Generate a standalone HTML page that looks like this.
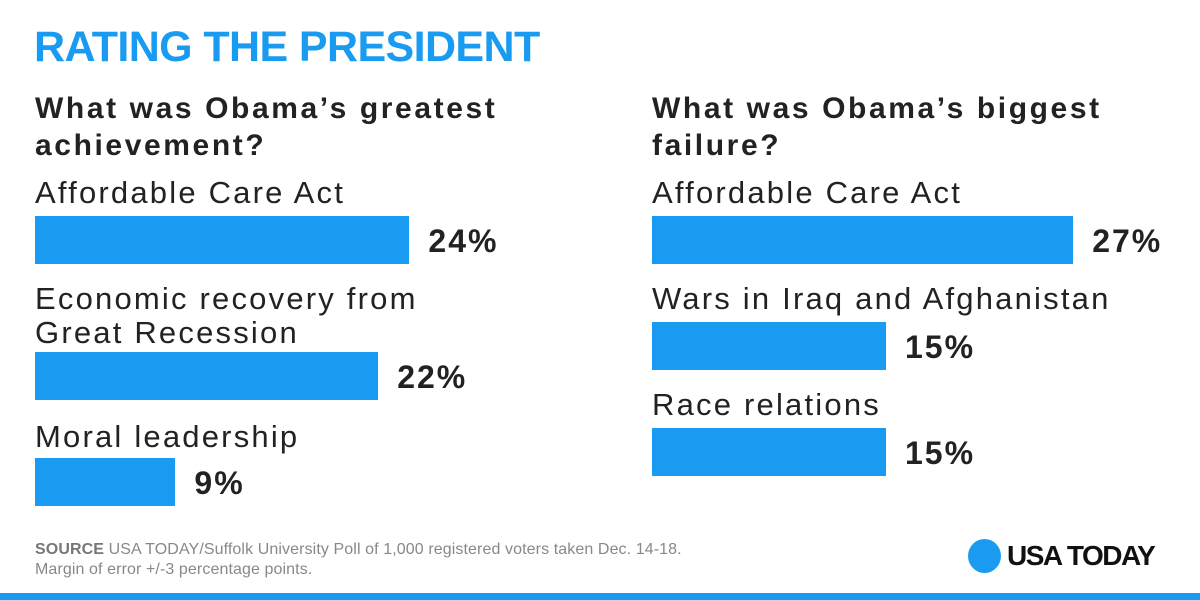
<!DOCTYPE html>
<html><head><meta charset="utf-8"><style>
body{margin:0;width:1200px;height:600px;background:#fff;position:relative;overflow:hidden;font-family:"Liberation Sans",sans-serif}
.abs{position:absolute;white-space:nowrap}
.title{left:34px;top:23px;font-size:43px;font-weight:bold;color:#1a9bf2;letter-spacing:-0.6px}
.q{font-size:30px;font-weight:bold;color:#222;line-height:37px;letter-spacing:2.6px}
.lab{font-size:31px;color:#222;line-height:34px;letter-spacing:2.2px}
.bar{position:absolute;background:#1a9bf2}
.val{position:absolute;font-size:32px;font-weight:bold;color:#222;letter-spacing:2px}
</style></head><body>
<div class="abs title">RATING THE PRESIDENT</div>
<div class="abs q" style="left:35px;top:90px">What was Obama’s greatest<br>achievement?</div>
<div class="abs q" style="left:652px;top:90px">What was Obama’s biggest<br>failure?</div>
<div id="chart"></div>
<div class="abs" style="left:35px;top:540px;font-size:16px;color:#888;line-height:20px;letter-spacing:0.1px"><b style="color:#777">SOURCE</b> USA TODAY/Suffolk University Poll of 1,000 registered voters taken Dec. 14-18.<br>Margin of error +/-3 percentage points.</div>
<div class="abs" style="left:968px;top:539px;width:33px;height:34px;border-radius:50%;background:#1a9bf2"></div>
<div class="abs" style="left:1007px;top:540px;font-size:28px;font-weight:bold;color:#111;letter-spacing:-1.5px">USA TODAY</div>
<div class="abs" style="left:0;top:593px;width:1200px;height:7px;background:#1a9bf2"></div>
<script>
const leftCats=["Affordable Care Act","Economic recovery from<br>Great Recession","Moral leadership"];
const leftVals=[24,22,9];
const rightCats=["Affordable Care Act","Wars in Iraq and Afghanistan","Race relations"];
const rightVals=[27,15,15];
const pxPer=15.6;
function x(v){return v*pxPer;}
const root=document.getElementById('chart');
function draw(cats,vals,x0,labelTops,barTops,side){
  cats.forEach((c,i)=>{
    const l=document.createElement('div');
    l.className='abs lab';l.style.left=x0+'px';l.style.top=labelTops[i]+'px';l.innerHTML=c;
    
    
    root.appendChild(l);
    const b=document.createElement('div');
    b.className='bar';b.style.left=x0+'px';b.style.top=barTops[i]+'px';b.style.width=x(vals[i])+'px';b.style.height='48px';
    
    
    root.appendChild(b);
    const v=document.createElement('div');
    v.className='val';v.style.left=(x0+x(vals[i])+19)+'px';v.style.top=(barTops[i]+7)+'px';v.textContent=vals[i]+'%';
    
    
    root.appendChild(v);
  });
}
draw(leftCats,leftVals,35,[176,282,420],[216,352,458],'left');
draw(rightCats,rightVals,652,[176,282,388],[216,322,428],'right');
</script>
</body></html>
